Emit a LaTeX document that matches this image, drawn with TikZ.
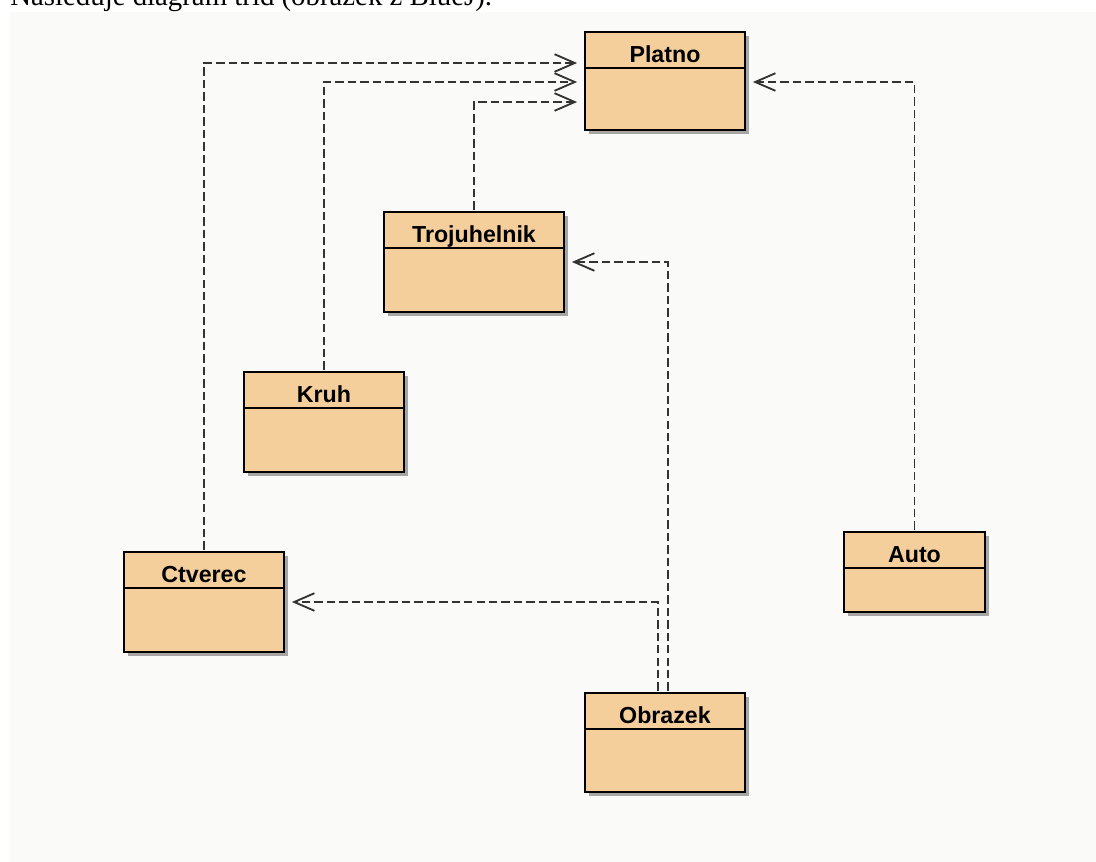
\documentclass[tikz,border=0pt]{standalone}
\usepackage{fontspec}
\setmainfont{Liberation Serif}
\newfontfamily\classfont{Liberation Sans}
\usetikzlibrary{calc, arrows.meta}

\definecolor{canvas}{HTML}{FAFBF8}
\definecolor{classfill}{HTML}{F4CF9C}
\definecolor{depline}{HTML}{333333}

% #1 name, #2 left, #3 top, #4 width, #5 height, #6 label (pixel units)
\newcommand{\umlclass}[6]{%
	\fill[classshadow] (#2+4,#3+4) rectangle ++(#4,#5);
	\node[classbox, minimum width=#4*0.02cm, minimum height=#5*0.02cm, anchor=north west] (#1) at (#2,#3) {};
	\draw[classrule] ($(#1.north west)+(0,36)$) -- ($(#1.north east)+(0,36)$);
	\node[classname] (#1-name) at ($(#1.north)+(0,30)$) {#6};
}

\begin{document}
\begin{tikzpicture}[x=0.02cm, y=-0.02cm,
		classbox/.style={draw=black, line width=1pt, fill=classfill, inner sep=0pt, outer sep=0pt},
		classshadow/.style={black!35},
		classrule/.style={black, line width=1pt},
		classname/.style={anchor=base, inner sep=0pt, font=\classfont\bfseries\fontsize{13.2}{15}\selectfont},
		dep/.style={depline, line width=1.05pt, dash pattern=on 4.8pt off 2.3pt,
			-{Straight Barb[length=11.5pt, width=10pt, line width=1.05pt]},
			shorten >=4.5pt, shorten <=1.2pt}]
	\clip (0,0) rectangle (1096,862);
	\fill[white] (0,0) rectangle (1096,862);
	\fill[canvas] (10,12) rectangle (1096,862);
	
	% caption line, cut by the top edge
	\node[anchor=base west, inner sep=0pt, font=\fontsize{16.4}{18}\selectfont] (caption) at (10,6) {Následuje diagram tříd (obrázek z BlueJ).};
	
	% classes
	\umlclass{platno}{585}{32}{160}{98}{Platno}
	\umlclass{troj}{384}{212}{180}{100}{Trojuhelnik}
	\umlclass{kruh}{244}{372}{160}{100}{Kruh}
	\umlclass{ctverec}{124}{552}{160}{100}{Ctverec}
	\umlclass{auto}{844}{532}{141}{80}{Auto}
	\umlclass{obrazek}{585}{693}{160}{99}{Obrazek}
	
	% dependencies
	\draw[dep] (ctverec.north) |- ($(platno.west)+(0,-18)$);
	\draw[dep] (kruh.north) |- ($(platno.west)+(0,1)$);
	\draw[dep] (troj.north) |- ($(platno.west)+(0,21)$);
	\draw[dep] (auto.north) |- ($(platno.east)+(0,1)$);
	\draw[dep] ($(obrazek.north)+(3,0)$) |- (troj.east);
	\draw[dep] ($(obrazek.north)+(-7,0)$) |- (ctverec.east);
\end{tikzpicture}
\end{document}
